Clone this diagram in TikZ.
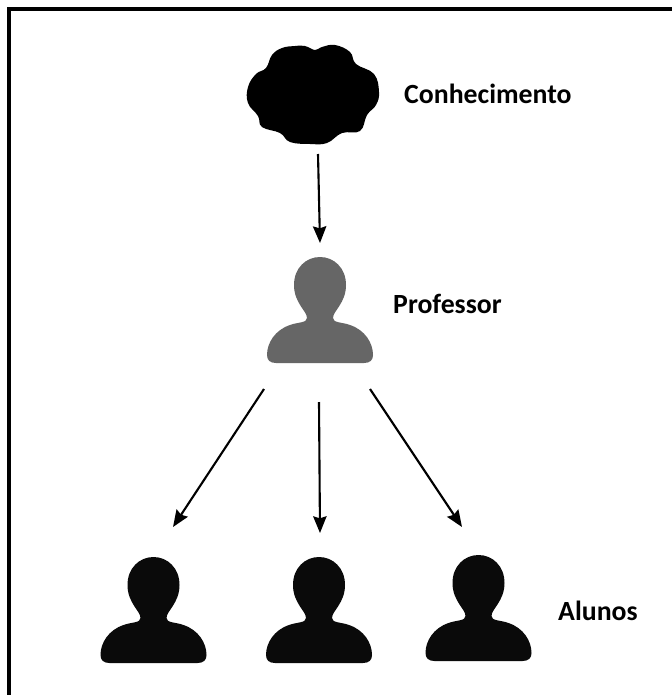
\documentclass[tikz,border=0pt]{standalone}
\usepackage{fontspec}
\setmainfont{Carlito}
\usetikzlibrary{arrows.meta}
\tikzset{
    arrow/.style={-{Stealth[length=5mm, width=4mm, inset=0.6mm]}, line width=1.8pt},
    label/.style={font=\bfseries\fontsize{23.7}{28}\selectfont, text=black, inner sep=0pt},
    person/.pic={
        \fill[pic actions] (-44,0) .. controls (-50,0) and (-53,-3) .. (-53,-8)
            .. controls (-53,-20) and (-45,-33) .. (-30,-38)
            .. controls (-22,-41) and (-13,-40) .. (-13,-45)
            .. controls (-13,-52) and (-26,-60) .. (-26,-78)
            .. controls (-26,-95) and (-14,-106) .. (0,-106)
            .. controls (14,-106) and (26,-95) .. (26,-78)
            .. controls (26,-60) and (13,-52) .. (13,-45)
            .. controls (13,-40) and (22,-41) .. (30,-38)
            .. controls (45,-33) and (53,-20) .. (53,-8)
            .. controls (53,-3) and (50,0) .. (44,0) -- cycle;
    }
}
\begin{document}
\begin{tikzpicture}[x=0.03cm, y=-0.03cm]
    \useasboundingbox (0, 0) rectangle (672, 695);
    \fill[white] (0, 0) rectangle (672, 695);

    % Frame
    \draw[line width=2.6pt] (9, 695) -- (9, 9) -- (672, 9);

    % Cloud
    \fill[black] plot[smooth cycle, tension=0.7] coordinates {(315, 50) (305, 46) (295, 46)
        (282, 48) (272, 55) (266, 68) (256, 74) (248, 87) (248, 103) (258, 116)
        (262, 127) (280, 133) (290, 142) (310, 144) (327, 143) (342, 133) (360, 131)
        (367, 115) (376, 105) (379, 92) (374, 74) (356, 64) (350, 52) (335, 45) (322, 47)};

    % People
    \pic[fill={rgb,255:red,102;green,102;blue,102}] at (320, 363) {person};
    \pic[fill={rgb,255:red,10;green,10;blue,10}] at (153.5, 663) {person};
    \pic[fill={rgb,255:red,10;green,10;blue,10}] at (319, 663) {person};
    \pic[fill={rgb,255:red,10;green,10;blue,10}] at (478.5, 661) {person};

    % Arrow ends
    \coordinate (cloud out) at (318, 154);
    \coordinate (prof in) at (320, 243);
    \coordinate (prof left) at (264, 389);
    \coordinate (prof mid) at (319, 402);
    \coordinate (prof right) at (370, 389);
    \coordinate (aluno a) at (173, 527);
    \coordinate (aluno b) at (320, 533);
    \coordinate (aluno c) at (462, 527);

    \draw[arrow] (cloud out) -- (prof in);
    \draw[arrow] (prof left) -- (aluno a);
    \draw[arrow] (prof mid) -- (aluno b);
    \draw[arrow] (prof right) -- (aluno c);

    % Labels
    \node[label, anchor=west] (conhecimento) at (404, 94) {Conhecimento};
    \node[label, anchor=west] (professor) at (393, 304) {Professor};
    \node[label, anchor=west] (alunos) at (558, 611) {Alunos};
\end{tikzpicture}
\end{document}
